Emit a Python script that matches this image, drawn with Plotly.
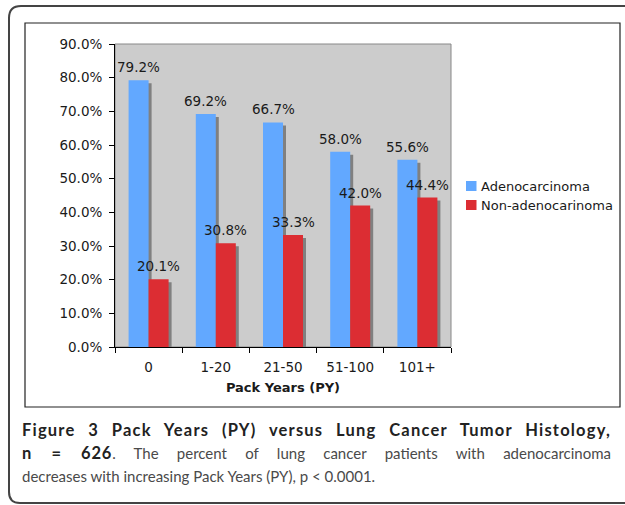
import plotly.graph_objects as go

# ---- data ----
categories = ["0", "1-20", "21-50", "51-100", "101+"]
adeno = [79.2, 69.2, 66.7, 58.0, 55.6]
non_adeno = [20.1, 30.8, 33.3, 42.0, 44.4]
series_names = ["Adenocarcinoma", "Non-adenocarinoma"]
y_tick_vals = [0, 10, 20, 30, 40, 50, 60, 70, 80, 90]
x_title = "Pack Years (PY)"
BOLD_STYLE = "color:#222222;font-size:16.5px"
caption_lines = [
    f"<b><span style='{BOLD_STYLE}'>Figure 3 Pack Years (PY) versus Lung Cancer Tumor Histology,</span></b>",
    f"<b><span style='{BOLD_STYLE}'>n = 626</span></b>. The percent of lung cancer patients with adenocarcinoma",
    "decreases with increasing Pack Years (PY), p < 0.0001.",
]

# ---- style ----
W, H = 625, 505
BLUE = "#62a8ff"
RED = "#dc2d33"
SHADOW = "#808080"
FONT = "DejaVu Sans, Verdana, sans-serif"
CAP_FONT = "Lato, Open Sans, sans-serif"

def px(x):
    return x / W

def py(y):
    return 1 - y / H

plot_x0, plot_x1 = 115, 451
plot_y_top, plot_y_bot = 44, 347
cat_w = (plot_x1 - plot_x0) / len(categories)
bar_w = 20 / cat_w
sh_dx = 3 / cat_w
sh_dy = 3 * 90 / (plot_y_bot - plot_y_top)

fig = go.Figure()

# shadows
for vals, off in [(adeno, -bar_w), (non_adeno, 0)]:
    fig.add_trace(go.Bar(
        x=categories, y=[v - sh_dy for v in vals], width=bar_w, offset=off + sh_dx,
        marker=dict(color=SHADOW, line=dict(width=0)), showlegend=False, hoverinfo="skip"))

for vals, off, col, name in [(adeno, -bar_w, BLUE, series_names[0]),
                             (non_adeno, 0, RED, series_names[1])]:
    fig.add_trace(go.Bar(
        x=categories, y=vals, width=bar_w, offset=off, name=name,
        marker=dict(color=col, line=dict(width=0)), showlegend=False))
    # value labels, centred over each bar
    shift = (off + bar_w / 2) * cat_w
    for c, v in zip(categories, vals):
        fig.add_annotation(x=c, y=v, xref="x", yref="y", text=f"{v:.1f}%",
                           showarrow=False, xshift=shift, yshift=13,
                           xanchor="center", yanchor="middle",
                           font=dict(family=FONT, size=13.5, color="#1a1a1a"))

fig.update_layout(
    width=W, height=H, autosize=False,
    margin=dict(l=0, r=0, t=0, b=0, pad=0, autoexpand=False),
    paper_bgcolor="white", plot_bgcolor="#cccccc",
    barmode="overlay", showlegend=False,
    font=dict(family=FONT, size=13, color="#1a1a1a"),
    xaxis=dict(domain=[px(plot_x0), px(plot_x1)], type="category", range=[-0.5, 4.5],
               automargin=False,
               tickson="boundaries", ticks="outside", ticklen=5, tickcolor="black",
               ticklabelstandoff=8,
               showline=True, linecolor="black", linewidth=1, showgrid=False,
               tickfont=dict(family=FONT, size=13.5),
               title=dict(text="<b>" + x_title + "</b>", font=dict(family=FONT, size=13), standoff=8)),
    yaxis=dict(domain=[py(plot_y_bot), py(plot_y_top)], range=[0, 90],
               automargin=False,
               tickvals=y_tick_vals, ticktext=[f"{v:.1f}%" for v in y_tick_vals],
               ticks="outside", ticklen=5, tickcolor="black", ticklabelstandoff=4,
               showline=True, linecolor="black", linewidth=1, showgrid=False, zeroline=False,
               tickfont=dict(family=FONT, size=13.5)),
)

shapes = []
# plot area border (gray top/right)
shapes.append(dict(type="rect", xref="paper", yref="paper",
                   x0=px(plot_x0), x1=px(plot_x1), y0=py(plot_y_bot), y1=py(plot_y_top),
                   line=dict(color="#888888", width=1), layer="below"))
# inner chart box
shapes.append(dict(type="rect", xref="paper", yref="paper",
                   x0=px(25), x1=px(620), y0=py(407), y1=py(23),
                   line=dict(color="#222222", width=1.2)))
# outer rounded box
path = (f"M {px(630)},{py(6)} L {px(21)},{py(6)} Q {px(9)},{py(6)} {px(9)},{py(18)} "
        f"L {px(9)},{py(492)} Q {px(9)},{py(503)} {px(20)},{py(503)} L {px(630)},{py(503)}")
shapes.append(dict(type="path", xref="paper", yref="paper", path=path,
                   line=dict(color="#444444", width=2)))

# custom legend
legend_y = [186, 205]
for name, col, ly in zip(series_names, [BLUE, RED], legend_y):
    shapes.append(dict(type="rect", xref="paper", yref="paper",
                       x0=px(466), x1=px(476.5), y0=py(ly + 5), y1=py(ly - 5),
                       fillcolor=col, line=dict(width=0)))
    fig.add_annotation(x=px(479), y=py(ly), xref="paper", yref="paper", text=name,
                       showarrow=False, xanchor="left", yanchor="middle", align="left",
                       font=dict(family=FONT, size=13, color="#1a1a1a"))

fig.update_layout(shapes=shapes)

# caption (last three annotations)
cap_y = [430, 453, 476]
for line, cy in zip(caption_lines, cap_y):
    fig.add_annotation(x=px(20), y=py(cy), xref="paper", yref="paper", text=line,
                       showarrow=False, xanchor="left", yanchor="middle", align="left",
                       font=dict(family=CAP_FONT, size=15, color="#4a4a4a"))

post = """
document.body.style.margin='0';
document.body.style.overflow='hidden';
var gd=document.getElementById('{plot_id}');
gd.style.position='absolute'; gd.style.left='0px'; gd.style.top='0px';
var t=gd.querySelectorAll('text.annotation-text');
var n=t.length;
t[n-3].style.letterSpacing='1.2px';
t[n-2].querySelectorAll('tspan').forEach(function(s){
  if((s.getAttribute('style')||'').indexOf('bold')>=0){ s.style.letterSpacing='0.8px'; }
});
[n-3, n-2].forEach(function(i){
  var el=t[i];
  var r=el.getBoundingClientRect();
  var spaces=(el.textContent.match(/ /g)||[]).length;
  var extra=611-r.right;
  if(spaces>0 && extra>0){ el.style.wordSpacing=(extra/spaces)+'px'; }
});
"""

fig.write_html("out.html", post_script=post, config={"displayModeBar": False})
